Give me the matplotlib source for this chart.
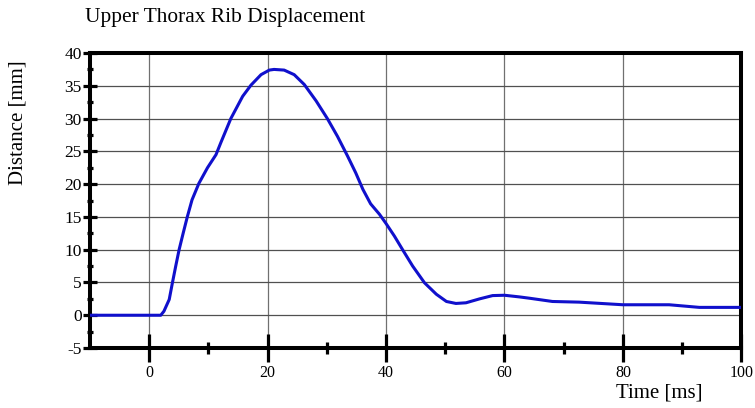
import matplotlib
matplotlib.use("Agg")
import matplotlib.pyplot as plt
from matplotlib.ticker import MultipleLocator, FixedLocator

# Data
time_ms = [-10, 0.85, 1.97, 2.5, 3.4, 3.94, 4.5, 5.07, 5.75, 6.45, 7.25, 8.4,
           9.86, 11.3, 12.1, 13.8, 15.8, 17.2, 18.9, 20.3, 21.1, 22.8, 24.5,
           26.2, 28.2, 30.1, 31.8, 33.5, 34.9, 36.1, 37.4, 38.9, 40.0, 41.4,
           42.8, 44.5, 46.5, 48.5, 50.2, 51.8, 53.5, 55.8, 58.0, 60.0, 62.5,
           64.2, 68.1, 72.6, 80.0, 87.8, 92.9, 100.0]
distance_mm = [0, 0, 0, 0.6, 2.4, 4.95, 7.5, 10.0, 12.5, 15.0, 17.6, 20.1,
               22.5, 24.5, 26.3, 30.0, 33.4, 35.1, 36.7, 37.4, 37.5, 37.4, 36.7,
               35.2, 32.7, 30.0, 27.3, 24.3, 21.7, 19.2, 17.0, 15.4, 14.0, 12.1,
               10.0, 7.5, 4.95, 3.2, 2.1, 1.8, 1.9, 2.5, 3.0, 3.05, 2.8,
               2.6, 2.1, 2.0, 1.6, 1.6, 1.2, 1.2]

title = "Upper Thorax Rib Displacement"
xlabel = "Time [ms]"
ylabel = "Distance [mm]"
x_major = [0, 20, 40, 60, 80, 100]
x_minor = [10, 30, 50, 70, 90]
y_major = list(range(-5, 41, 5))
x_grid = [0, 20, 40, 60, 80]
y_grid = list(range(0, 40, 5))

plt.rcParams['font.family'] = ['Liberation Serif', 'DejaVu Serif']

fig = plt.figure(figsize=(7.55, 4.08), dpi=100)
ax = fig.add_axes([0.119, 0.147, 0.863, 0.723])

ax.plot(time_ms, distance_mm, color='#1010cc', lw=2.2, solid_joinstyle='round',
        solid_capstyle='round', zorder=3)

ax.set_xlim(-10, 100)
ax.set_ylim(-5, 40)

ax.xaxis.set_major_locator(FixedLocator(x_major))
ax.xaxis.set_minor_locator(FixedLocator(x_minor))
ax.yaxis.set_major_locator(FixedLocator(y_major))
ax.yaxis.set_minor_locator(MultipleLocator(2.5))

for s in ax.spines.values():
    s.set_linewidth(2.9)
    s.set_color('black')

ax.tick_params(axis='x', which='major', direction='inout', length=20, width=2.3,
               labelsize=11.5, pad=2)
ax.tick_params(axis='x', which='minor', direction='inout', length=9, width=2.3)
ax.tick_params(axis='y', which='major', direction='inout', length=10, width=2.3,
               labelsize=12.5, pad=1)
ax.tick_params(axis='y', which='minor', direction='inout', length=5, width=2.3)

ax.set_yticklabels([str(v) for v in y_major])
ax.set_xticklabels([str(v) for v in x_major])

for xv in x_grid:
    ax.axvline(xv, color='#707070', lw=0.9, zorder=1)
for yv in y_grid:
    ax.axhline(yv, color='#505050', lw=0.9, zorder=1)

fig.text(0.113, 0.956, title, fontsize=15.4, ha='left', va='center')
fig.text(0.024, 0.70, ylabel, fontsize=15, rotation=90, ha='center', va='center')
fig.text(0.931, 0.036, xlabel, fontsize=15, ha='right', va='center')

fig.savefig("out.png", dpi=100)
